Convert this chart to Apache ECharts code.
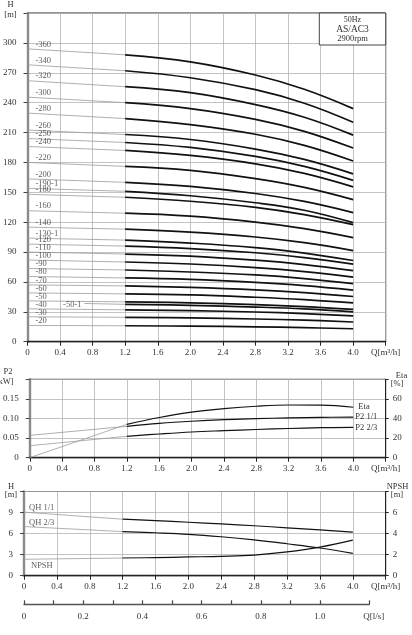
<!DOCTYPE html>
<html>
<head>
<meta charset="utf-8">
<title>AS/AC3 50Hz</title>
<script src="https://cdn.jsdelivr.net/npm/echarts/dist/echarts.min.js"></script>
<style>
  html, body { margin: 0; padding: 0; background: #fff; }
  #main { width: 412px; height: 635px; }
</style>
</head>
<body>
<div id="main"></div>
<script type="text/javascript">
// pump stages (one QH curve each)
var stages = ['360', '340', '320', '300', '280', '260', '250', '240', '220', '200',
  '190-1', '180', '160', '140', '130-1', '120', '110', '100', '90', '80',
  '70', '60', '50', '50-1', '40', '30', '20'];

// gray extension: start flow and head there
var grayQ = [0, 0, 0, 0, 0, 0, 0, 0, 0, 0, 0, 0, 0, 0, 0, 0, 0, 0, 0, 0, 0, 0, 0, 0.7, 0, 0, 0];
var h00 = [294, 278, 262, 245.5, 229.5, 212.5, 204, 196, 180, 163.5,
  154, 148, 131.5, 115, 104, 98, 90, 82, 73.5, 65.5,
  57, 49, 41, 38.4, 33, 25, 16.3];

// working range flows and heads [m]
var qWork = [1.2, 2.0, 2.8, 3.4, 4.0];
var h12 = [288, 272, 256, 240, 224, 208, 200, 192, 176, 160,
  151, 145, 129, 113, 102, 96, 88, 80, 72, 64,
  56, 48, 40, 37.5, 32, 24.5, 16];
var h20 = [281, 265, 250, 234, 218, 203, 195, 187, 172, 156,
  146.5, 141, 126, 110, 99, 93.5, 86, 78, 70, 62.5,
  54.5, 47, 39, 36.5, 31.2, 23.9, 15.6];
var h28 = [267.8, 253, 238, 223.2, 208.3, 193.4, 186, 178.6, 163.7, 148.8,
  139.5, 134.9, 120, 105.1, 94.5, 89.3, 81.8, 74.4, 67, 59.5,
  52.1, 44.6, 37.2, 34.8, 29.8, 22.8, 14.9];
var h34 = [253.4, 239.4, 225.3, 211.2, 197.1, 183, 176, 169, 154.9, 140.8,
  132, 127.6, 113.5, 99.4, 89, 84.5, 77.4, 70.4, 63.4, 56.3,
  49.3, 42.2, 35.2, 33, 28.2, 21.6, 14.1];
var h40 = [234, 220.3, 207.4, 194.4, 181.4, 168.5, 162, 155.5, 142.6, 129.6,
  119.5, 117.5, 104.5, 91.5, 81.5, 77.8, 71.3, 64.8, 58.3, 51.8,
  45.4, 38.9, 32.4, 30, 25.9, 19.8, 13];

// power / efficiency
var qExt = [0, 1.2];
var qSmall = [1.2, 1.6, 2.0, 2.4, 2.8, 3.2, 3.6, 4.0];
var etaExt = [0, 34];
var eta = [34, 41, 46.5, 50, 52.5, 53.8, 53.6, 51.5];
var p2FullExt = [0.057, 0.080];
var p2Full = [0.080, 0.0875, 0.093, 0.097, 0.0995, 0.1015, 0.103, 0.1035];
var p2TwoExt = [0.0306, 0.0546];
var p2Two = [0.0546, 0.0605, 0.0656, 0.069, 0.072, 0.0745, 0.0765, 0.0775];

// single stage head and NPSH
var qhFullExt = [9.06, 8.05];
var qhFull = [8.05, 7.85, 7.62, 7.38, 7.12, 6.82, 6.52, 6.22];
var qhTwoExt = [7.0, 6.29];
var qhTwo = [6.29, 6.12, 5.9, 5.55, 5.1, 4.55, 3.95, 3.19];
var npshExt = [1.56, 1.68];
var npsh = [1.68, 1.72, 1.78, 1.84, 1.96, 2.26, 2.72, 3.38];

// l/s scale ticks
var lsTicks = [0, 0.1, 0.2, 0.3, 0.4, 0.5, 0.6, 0.7, 0.8, 0.9, 1.0, 4.2 / 3.6];
var lsLabels = [0, 0.2, 0.4, 0.6, 0.8, 1.0, 4.2 / 3.6];

var FONT = 'Liberation Serif';
var TXT = '#333';
var GRID_LINE = { show: true, lineStyle: { color: '#b4b4b4', width: 0.8 } };

var myChart = echarts.init(document.getElementById('main'));

function pair(xs, ys) {
  return xs.map(function (x, k) { return [x, ys[k]]; });
}

function qLabel(v) {
  if (Math.abs(v - 4.4) < 1e-6) return 'Q[m\u00B3/h]';
  return v === 0 ? '0' : v.toFixed(1);
}

function xAxisQ(gi) {
  return {
    type: 'value', gridIndex: gi, min: 0, max: 4.4, interval: 0.4,
    axisLine: { lineStyle: { color: '#222', width: 1.4 } },
    axisTick: { length: 4, lineStyle: { color: '#222' } },
    axisLabel: { formatter: qLabel, margin: 6, color: TXT, fontFamily: FONT, fontSize: 9 },
    splitLine: GRID_LINE
  };
}

function yAxisLeft(gi, max, step, fmt) {
  return {
    type: 'value', gridIndex: gi, min: 0, max: max, interval: step,
    axisLine: { show: true, lineStyle: { color: '#8a8a8a', width: 2.4 } },
    axisTick: { show: true, length: 4, lineStyle: { color: '#444' } },
    axisLabel: {
      margin: 11, color: TXT, fontFamily: FONT, fontSize: 9,
      formatter: function (v) { return Math.abs(v - max) < 1e-9 ? '' : fmt(v); }
    },
    splitLine: GRID_LINE
  };
}

function yAxisRight(gi, max, step) {
  return {
    type: 'value', gridIndex: gi, position: 'right', min: 0, max: max, interval: step,
    axisLine: { show: true, lineStyle: { color: '#222', width: 1 } },
    axisTick: { show: true, length: 3, lineStyle: { color: '#222' } },
    axisLabel: {
      margin: 7, color: TXT, fontFamily: FONT, fontSize: 9,
      formatter: function (v) { return v === max ? '' : String(v); }
    },
    splitLine: { show: false }
  };
}

function grayLine(xi, yi, data) {
  return {
    type: 'line', xAxisIndex: xi, yAxisIndex: yi, data: data, showSymbol: false,
    silent: true, lineStyle: { color: '#9a9a9a', width: 0.8 }, z: 2
  };
}

function blackLine(xi, yi, data, width, endText, dist) {
  var s = {
    type: 'line', xAxisIndex: xi, yAxisIndex: yi, data: data, showSymbol: false,
    smooth: 0.4, silent: true,
    lineStyle: { color: '#111', width: width }, z: 3
  };
  if (endText) {
    s.endLabel = { show: true, formatter: endText, distance: dist, color: TXT, fontFamily: FONT, fontSize: 8.5 };
  }
  return s;
}

var series = [];
var headCols = [h12, h20, h28, h34, h40];
stages.forEach(function (name, i) {
  series.push(grayLine(0, 0, [[grayQ[i], h00[i]], [1.2, h12[i]]]));
  series.push(blackLine(0, 0, qWork.map(function (q, k) { return [q, headCols[k][i]]; }), 1.7));
});

// stage names written at the start of each gray line
series.push({
  type: 'scatter', xAxisIndex: 0, yAxisIndex: 0, symbolSize: 0, silent: true,
  itemStyle: { color: 'transparent' }, z: 4,
  data: stages.map(function (name, i) {
    var left = grayQ[i] > 0;
    return {
      name: '-' + name, value: [grayQ[i], h00[i]],
      label: {
        show: true, formatter: '{b}', position: left ? 'left' : 'right',
        distance: left ? 3 : 8, offset: left ? [0, 1] : [0, -4.5],
        color: TXT, fontFamily: FONT, fontSize: 8.5
      }
    };
  })
});

// power and efficiency
series.push(grayLine(1, 2, pair(qExt, etaExt)));
series.push(blackLine(1, 2, pair(qSmall, eta), 1.2, 'Eta', 5));
series.push(grayLine(1, 1, pair(qExt, p2FullExt)));
series.push(blackLine(1, 1, pair(qSmall, p2Full), 1.2, 'P2 1/1', 2));
series.push(grayLine(1, 1, pair(qExt, p2TwoExt)));
series.push(blackLine(1, 1, pair(qSmall, p2Two), 1.2, 'P2 2/3', 2));

// single stage head and NPSH
series.push(grayLine(2, 3, pair(qExt, qhFullExt)));
series.push(blackLine(2, 3, pair(qSmall, qhFull), 1.2));
series.push(grayLine(2, 3, pair(qExt, qhTwoExt)));
series.push(blackLine(2, 3, pair(qSmall, qhTwo), 1.2));
series.push(grayLine(2, 4, pair(qExt, npshExt)));
series.push(blackLine(2, 4, pair(qSmall, npsh), 1.2));

function tag(xi, yi, text, point, offset) {
  return {
    type: 'scatter', xAxisIndex: xi, yAxisIndex: yi, symbolSize: 0, silent: true,
    itemStyle: { color: 'transparent' }, z: 4,
    data: [{ value: point, name: text }],
    label: { show: true, formatter: '{b}', position: 'right', distance: 5, offset: offset,
      color: TXT, fontFamily: FONT, fontSize: 8.5 }
  };
}
series.push(tag(2, 3, 'QH 1/1', [0, qhFullExt[0]], [0, -4]));
series.push(tag(2, 3, 'QH 2/3', [0, qhTwoExt[0]], [0, -3.5]));
series.push(tag(2, 4, 'NPSH', [0, npshExt[0]], [2, 6]));

// empty series so the l/s axis is drawn
series.push({ type: 'line', xAxisIndex: 3, yAxisIndex: 5, data: [], silent: true });

function txt(text, x, y, size, align) {
  return {
    type: 'text', x: x, y: y, silent: true, z: 11,
    style: { text: text, fill: TXT, font: size + 'px "' + FONT + '"', align: align || 'center', verticalAlign: 'middle' }
  };
}

var option = {
  animation: false,
  backgroundColor: '#fff',
  grid: [
    { left: 24, right: 26.3, top: 13, height: 328.7, show: true, borderColor: '#222', borderWidth: 1 },
    { left: 24, right: 26.3, top: 379.3, height: 78.4, show: true, borderColor: '#222', borderWidth: 1 },
    { left: 24, right: 26.3, top: 491.5, height: 84.2, show: true, borderColor: '#222', borderWidth: 1 },
    { left: 24, right: 42.7, top: 603.3, height: 1 }
  ],
  xAxis: [
    xAxisQ(0), xAxisQ(1), xAxisQ(2),
    {
      type: 'value', gridIndex: 3, min: 0, max: 4.2 / 3.6,
      axisLine: { lineStyle: { color: '#555', width: 1.4 } },
      axisTick: { inside: true, length: 4, customValues: lsTicks, lineStyle: { color: '#444', width: 1.2 } },
      axisLabel: {
        customValues: lsLabels, margin: 8, color: TXT, fontFamily: FONT, fontSize: 9,
        formatter: function (v) { return v > 1.1 ? '{q|Q[l/s]}' : (v === 0 ? '0' : v.toFixed(1)); },
        rich: { q: { padding: [0, 0, 0, 9], color: TXT, fontFamily: FONT, fontSize: 9 } }
      },
      splitLine: { show: false }
    }
  ],
  yAxis: [
    yAxisLeft(0, 330, 30, function (v) { return String(v); }),
    yAxisLeft(1, 0.2, 0.05, function (v) { return v === 0 ? '0' : v.toFixed(2); }),
    yAxisRight(1, 80, 20),
    yAxisLeft(2, 12, 3, function (v) { return String(v); }),
    yAxisRight(2, 8, 2),
    { type: 'value', gridIndex: 3, show: false, min: 0, max: 1 }
  ],
  graphic: [
    txt('H', 10.5, 5, 8.5), txt('[m]', 10.5, 15, 8.5),
    {
      type: 'rect', shape: { x: 319.3, y: 13, width: 66.4, height: 32 }, silent: true, z: 10,
      style: { fill: '#fff', stroke: '#444', lineWidth: 1 }
    },
    txt('50Hz', 352.5, 19.5, 8), txt('AS/AC3', 352.5, 29.3, 9.5), txt('2900rpm', 352.5, 38.3, 8.5),
    txt('P2', 8, 371.7, 8.5), txt('[kW]', 13.5, 381.7, 8.5, 'right'),
    txt('Eta', 401.5, 375.7, 8.5), txt('[%]', 397, 383.3, 8.5),
    txt('H', 11, 486.7, 8.5), txt('[m]', 11, 495, 8.5),
    txt('NPSH', 397.5, 486.7, 8.5), txt('[m]', 397, 495, 8.5)
  ],
  series: series
};

myChart.setOption(option);
</script>
</body>
</html>
